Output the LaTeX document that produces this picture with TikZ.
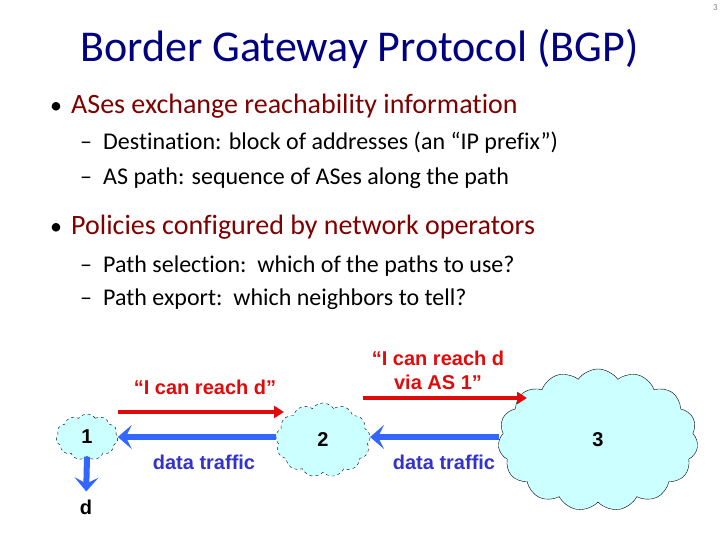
\documentclass[tikz,border=0pt]{standalone}
\usepackage{fontspec}
\setmainfont{Carlito}[Ligatures={NoCommon}]
\newfontfamily\arialfont{Liberation Sans}
\usetikzlibrary{shapes.symbols,arrows.meta}
\definecolor{titleblue}{RGB}{0,0,128}
\definecolor{bulletred}{RGB}{128,0,0}
\definecolor{cloudfill}{RGB}{204,255,255}
\definecolor{msgred}{RGB}{225,10,10}
\definecolor{arrowblue}{RGB}{51,102,255}
\definecolor{labelblue}{RGB}{51,51,204}
\begin{document}
\begin{tikzpicture}[x=1pt,y=-1pt,
  titletext/.style={anchor=base west,inner sep=0pt,text=titleblue,font=\fontsize{44}{52}\selectfont},
  bullettext/.style={anchor=base west,inner sep=0pt,text=bulletred,font=\fontsize{28}{33}\selectfont},
  subtext/.style={anchor=base west,inner sep=0pt,text=black,font=\fontsize{24}{29}\selectfont},
  markdot/.style={anchor=base west,inner sep=0pt,font=\fontsize{24}{29}\selectfont},
  as/.style={cloud,cloud puffs=11,cloud puff arc=110,draw=black,fill=cloudfill,thin,inner sep=0pt,font=\arialfont\bfseries\fontsize{20}{24}\selectfont},
  msg/.style={text=msgred,align=center,font=\arialfont\bfseries\fontsize{20}{24}\selectfont},
  datalbl/.style={text=labelblue,font=\arialfont\bfseries\fontsize{20}{24}\selectfont},
  redarrow/.style={draw=msgred,line width=4pt,-{Triangle[length=10pt,width=12pt]}},
  bluearrow/.style={draw=arrowblue,line width=6pt,-{Stealth[length=14pt,width=24pt,inset=6pt]}}
]
\useasboundingbox (0,0) rectangle (720,540);
\node[anchor=north east,inner sep=0pt,text=gray,font=\fontsize{9}{10}\selectfont] (pg) at (718,4) {3};
\node[titletext] (title) at (80,62) {Border Gateway Protocol (BGP)};
\node[markdot] (b1) at (50,114) {\textbullet};
\node[bullettext] (t1) at (71,114) {ASes exchange reachability information};
\node[subtext] (d1) at (80,150) {–};
\node[subtext] (s1) at (103,150) {Destination: block of addresses (an “IP prefix”)};
\node[subtext] (d2) at (80,185) {–};
\node[subtext] (s2) at (103,185) {AS path: sequence of ASes along the path};
\node[markdot] (b2) at (50,235) {\textbullet};
\node[bullettext] (t2) at (71,235) {Policies configured by network operators};
\node[subtext] (d3) at (80,272) {–};
\node[subtext] (s3) at (103,272) {Path selection:\ \ which of the paths to use?};
\node[subtext] (d4) at (80,305) {–};
\node[subtext] (s4) at (103,305) {Path export:\ \ which neighbors to tell?};

% clouds
\node[as,dashed,minimum width=62pt,minimum height=46pt,aspect=1.4] (c1) at (87,437) {1};
\node[as,dashed,minimum width=95pt,minimum height=74pt,aspect=1.3,cloud puffs=13] (c2) at (323,440) {2};
\node[as,minimum width=200pt,minimum height=142pt,aspect=1.5,cloud puffs=15] (c3) at (598,440) {3};

% messages
\coordinate (r1s) at (118,412);
\coordinate (r1e) at (284,412);
\coordinate (r2s) at (363,398);
\coordinate (r2e) at (527,398);
\draw[redarrow] (r1s) -- (r1e);
\draw[redarrow] (r2s) -- (r2e);
\node[msg] (m1) at (205,387) {“I can reach d”};
\node[msg] (m2) at (438,370) {“I can reach d\\via AS 1”};

% data traffic
\draw[bluearrow] (c2.west |- 0,437) -- (c1.east |- 0,437);
\draw[bluearrow] (c3.west |- 0,437) -- (c2.east |- 0,437);
\node[datalbl] (l1) at (204,462) {data traffic};
\node[datalbl] (l2) at (444,462) {data traffic};

\node[inner sep=0pt,font=\arialfont\bfseries\fontsize{20}{24}\selectfont] (d) at (86,507) {d};
\draw[bluearrow,shorten >=8pt] (c1.south) -- (d.north);
\end{tikzpicture}
\end{document}
